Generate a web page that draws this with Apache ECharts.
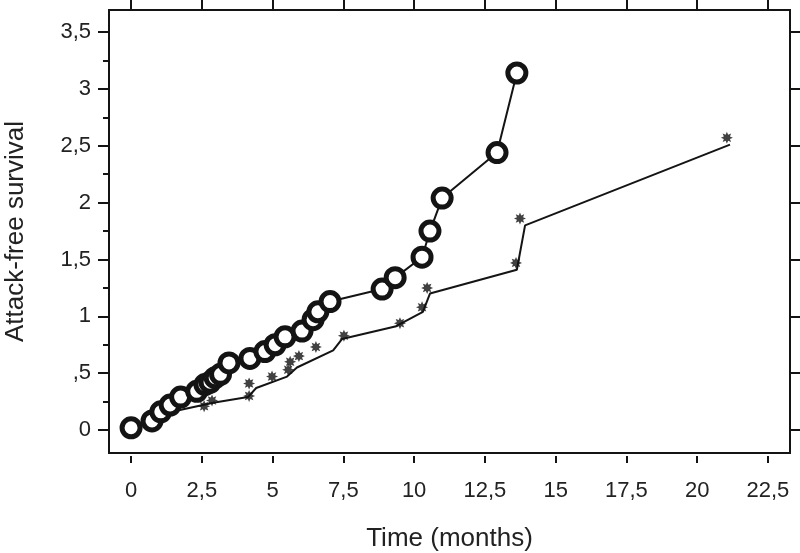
<!DOCTYPE html>
<html>
<head>
<meta charset="utf-8">
<title>Attack-free survival</title>
<script src="https://cdn.jsdelivr.net/npm/echarts@6.0.0/dist/echarts.min.js"></script>
<style>
  html, body { margin: 0; padding: 0; background: #fff; }
  #chart { width: 800px; height: 553px; }
</style>
</head>
<body>
<div id="chart"></div>
<script>
// open circles (observed) and their connecting line
const circleX = [0, 0.74, 1.05, 1.38, 1.75, 2.32, 2.61, 2.79, 2.97, 3.16, 3.46, 4.2, 4.73, 5.09, 5.44, 6.04, 6.43, 6.6, 7.03, 8.87, 9.33, 10.28, 10.56, 10.99, 12.93, 13.63];
const circleY = [0.02, 0.08, 0.16, 0.22, 0.29, 0.34, 0.4, 0.42, 0.46, 0.49, 0.59, 0.63, 0.69, 0.75, 0.82, 0.87, 0.97, 1.04, 1.13, 1.24, 1.34, 1.52, 1.75, 2.04, 2.44, 3.14];

// star markers
const starX = [0, 0.74, 1.27, 2.58, 2.86, 4.17, 4.17, 4.98, 5.55, 5.62, 5.93, 6.53, 7.52, 9.5, 10.28, 10.46, 13.6, 13.74, 21.05];
const starY = [0.02, 0.08, 0.16, 0.21, 0.26, 0.3, 0.41, 0.47, 0.53, 0.6, 0.65, 0.73, 0.83, 0.94, 1.08, 1.25, 1.47, 1.86, 2.57];

// fitted line under the stars
const fitX = [0, 1.24, 2.9, 4.13, 4.42, 5.51, 5.86, 7.14, 7.45, 9.33, 10.31, 10.56, 13.63, 13.92, 21.16];
const fitY = [0, 0.15, 0.24, 0.29, 0.37, 0.47, 0.55, 0.7, 0.8, 0.91, 1.04, 1.2, 1.41, 1.8, 2.51];

// ticks
const xTicks = [0, 2.5, 5, 7.5, 10, 12.5, 15, 17.5, 20, 22.5];
const yTicks = [0, 0.5, 1, 1.5, 2, 2.5, 3, 3.5];
const yMinorTicks = [0.25, 0.75, 1.25, 1.75, 2.25, 2.75, 3.25];

const X_MIN = -0.78, X_MAX = 23.28;
const Y_MIN = -0.202, Y_MAX = 3.694;

const ink = '#141414';
const font = 'Liberation Sans';

function fmt(v) {
  // european style: 2,5 and ,5
  return String(v).replace(/^0\./, '.').replace('.', ',');
}

function zip(xs, ys) {
  return xs.map((x, i) => [x, ys[i]]);
}

const starPath = 'path://M10 0L12.1 4.92L17.07 2.93L15.08 7.9L20 10L15.08 12.1L17.07 17.07L12.1 15.08L10 20L7.9 15.08L2.93 17.07L4.92 12.1L0 10L4.92 7.9L2.93 2.93L7.9 4.92Z';

const noLine = { show: false, onZero: false };

const chart = echarts.init(document.getElementById('chart'), null, { renderer: 'canvas' });

chart.setOption({
  animation: false,
  backgroundColor: '#fff',
  grid: {
    left: 109, right: 10, top: 10, bottom: 100,
    outerBoundsMode: 'none',
    containLabel: false,
    show: true,
    borderColor: ink,
    borderWidth: 2,
    backgroundColor: 'transparent'
  },
  xAxis: [
    {
      type: 'value',
      position: 'bottom',
      min: X_MIN, max: X_MAX,
      offset: 3,
      name: 'Time (months)',
      nameLocation: 'middle',
      nameGap: 70,
      nameTextStyle: { fontFamily: font, fontSize: 26, color: '#222' },
      axisLine: noLine,
      axisTick: { show: true, customValues: xTicks, length: 7, inside: false, lineStyle: { color: ink, width: 2 } },
      axisLabel: { customValues: xTicks, formatter: fmt, margin: 24, fontFamily: font, fontSize: 22, color: '#222' },
      splitLine: { show: false }
    },
    {
      type: 'value',
      position: 'top',
      min: X_MIN, max: X_MAX,
      axisLine: noLine,
      axisTick: { show: true, customValues: xTicks, length: 10, lineStyle: { color: ink, width: 2 } },
      axisLabel: { show: false, customValues: xTicks },
      splitLine: { show: false }
    }
  ],
  yAxis: [
    {
      type: 'value',
      position: 'left',
      min: Y_MIN, max: Y_MAX,
      name: 'Attack-free survival',
      nameLocation: 'middle',
      nameGap: 80,
      nameTextStyle: { fontFamily: font, fontSize: 26, color: '#222' },
      axisLine: noLine,
      axisTick: { show: true, customValues: yTicks, length: 11, lineStyle: { color: ink, width: 2 } },
      axisLabel: { customValues: yTicks, formatter: fmt, margin: 18, fontFamily: font, fontSize: 22, color: '#222' },
      splitLine: { show: false }
    },
    {
      type: 'value',
      position: 'left',
      min: Y_MIN, max: Y_MAX,
      axisLine: noLine,
      axisTick: { show: true, customValues: yMinorTicks, length: 6, lineStyle: { color: ink, width: 2 } },
      axisLabel: { show: false, customValues: yMinorTicks },
      splitLine: { show: false }
    },
    {
      type: 'value',
      position: 'right',
      min: Y_MIN, max: Y_MAX,
      axisLine: noLine,
      axisTick: { show: true, customValues: yTicks, length: 10, lineStyle: { color: ink, width: 2 } },
      axisLabel: { show: false, customValues: yTicks },
      splitLine: { show: false }
    }
  ],
  series: [
    {
      name: 'fit',
      type: 'line',
      data: zip(fitX, fitY),
      symbol: 'none',
      lineStyle: { color: ink, width: 2 },
      z: 2
    },
    {
      name: 'stars',
      type: 'scatter',
      data: zip(starX, starY),
      symbol: starPath,
      symbolSize: 12,
      itemStyle: { color: '#111' },
      z: 3
    },
    {
      name: 'circles',
      type: 'line',
      data: zip(circleX, circleY),
      symbol: 'circle',
      symbolSize: 18,
      showAllSymbol: true,
      lineStyle: { color: ink, width: 2 },
      itemStyle: { color: '#fff', borderColor: ink, borderWidth: 5 },
      z: 4
    }
  ]
});
</script>
</body>
</html>
